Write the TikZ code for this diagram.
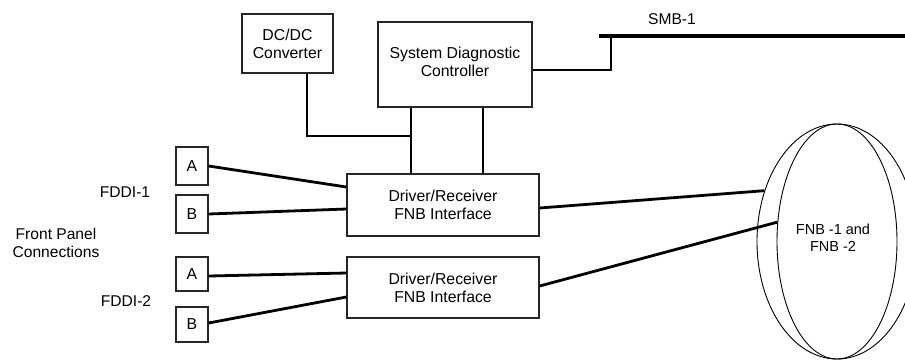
\documentclass[tikz,border=0pt]{standalone}
\usepackage{fontspec}
\setmainfont{Liberation Sans}
\usetikzlibrary{shapes.geometric}
\begin{document}
\begin{tikzpicture}[x=1pt,y=-1pt,
  box/.style={draw=black!85, line width=1.3pt, inner sep=0pt, align=center,
    font=\fontsize{15.8}{18}\selectfont},
  port/.style={box, minimum width=32pt},
  wire/.style={line width=2.8pt},
  bus/.style={line width=4.5pt},
  lbl/.style={font=\fontsize{15.6}{18}\selectfont, align=center, inner sep=0pt},
  ring/.style={draw, ellipse, line width=0.9pt, inner sep=0pt}]
\useasboundingbox (0,0) rectangle (905,360);
\clip (0,0) rectangle (905,360);

% boxes
\node[box, minimum width=91pt, minimum height=59pt] (dcdc) at (287.5,43.5) {DC/DC\\Converter};
\node[box, minimum width=154pt, minimum height=85pt] (sdc) at (455,64.5) {};
\node[lbl, font=\fontsize{15.8}{18}\selectfont] (sdct) at (455,62) {System Diagnostic\\Controller};
\node[box, minimum width=192pt, minimum height=62pt] (drv1) at (443,205) {Driver/Receiver\\FNB Interface};
\node[box, minimum width=192pt, minimum height=61pt] (drv2) at (443,287.5) {Driver/Receiver\\FNB Interface};

% ports
\node[port, minimum height=38pt] (a1) at (192,166) {A};
\node[port, minimum height=38pt] (b1) at (192,214) {B};
\node[port, minimum height=34pt] (a2) at (192,274) {A};
\node[port, minimum height=35pt] (b2) at (192,324.5) {B};

% labels
\node[lbl] (fddi1) at (125,192) {FDDI-1};
\node[lbl] (fddi2) at (126,301.5) {FDDI-2};
\node[lbl] (fpc) at (56,243) {Front Panel\\Connections};
\node[lbl] (smbl) at (672,19) {SMB-1};

% FNB ellipses
\node[ring, minimum width=160pt, minimum height=235pt] (fnbo) at (837,241.5) {};
\node[ring, minimum width=120pt, minimum height=235pt] (fnbi) at (837,241.5) {};
\node[lbl, font=\fontsize{14.5}{16.7}\selectfont] (fnbt) at (833,238) {FNB -1 and\\FNB -2};

% SMB bus
\coordinate (smbA) at (599,36);
\coordinate (smbB) at (910,36);
\coordinate (smbT) at (611,36);
\draw[bus] (smbA) -- (smbB);
\draw[wire] ([yshift=-5.5pt]sdc.east) -| (smbT);

% power / control
\coordinate (jn) at (411,136);
\draw[wire] ([xshift=19.5pt]dcdc.south) |- (jn);
\draw[wire] (sdc.south -| jn) -- (drv1.north -| jn);
\draw[wire] ([xshift=28pt]sdc.south) -- ([xshift=40pt]drv1.north);

% front panel wires
\draw[wire] (a1.east) -- ([yshift=18pt]drv1.west);
\draw[wire] (b1.east) -- ([yshift=-4pt]drv1.west);
\draw[wire] ([yshift=-2pt]a2.east) -- ([yshift=14.5pt]drv2.west);
\draw[wire] ([yshift=1.5pt]b2.east) -- ([yshift=-9.5pt]drv2.west);

% to FNB
\draw[wire] ([yshift=-3pt]drv1.east) -- (fnbo.145);
\draw[wire] ([yshift=1.5pt]drv2.east) -- (fnbi.162);
\end{tikzpicture}
\end{document}
